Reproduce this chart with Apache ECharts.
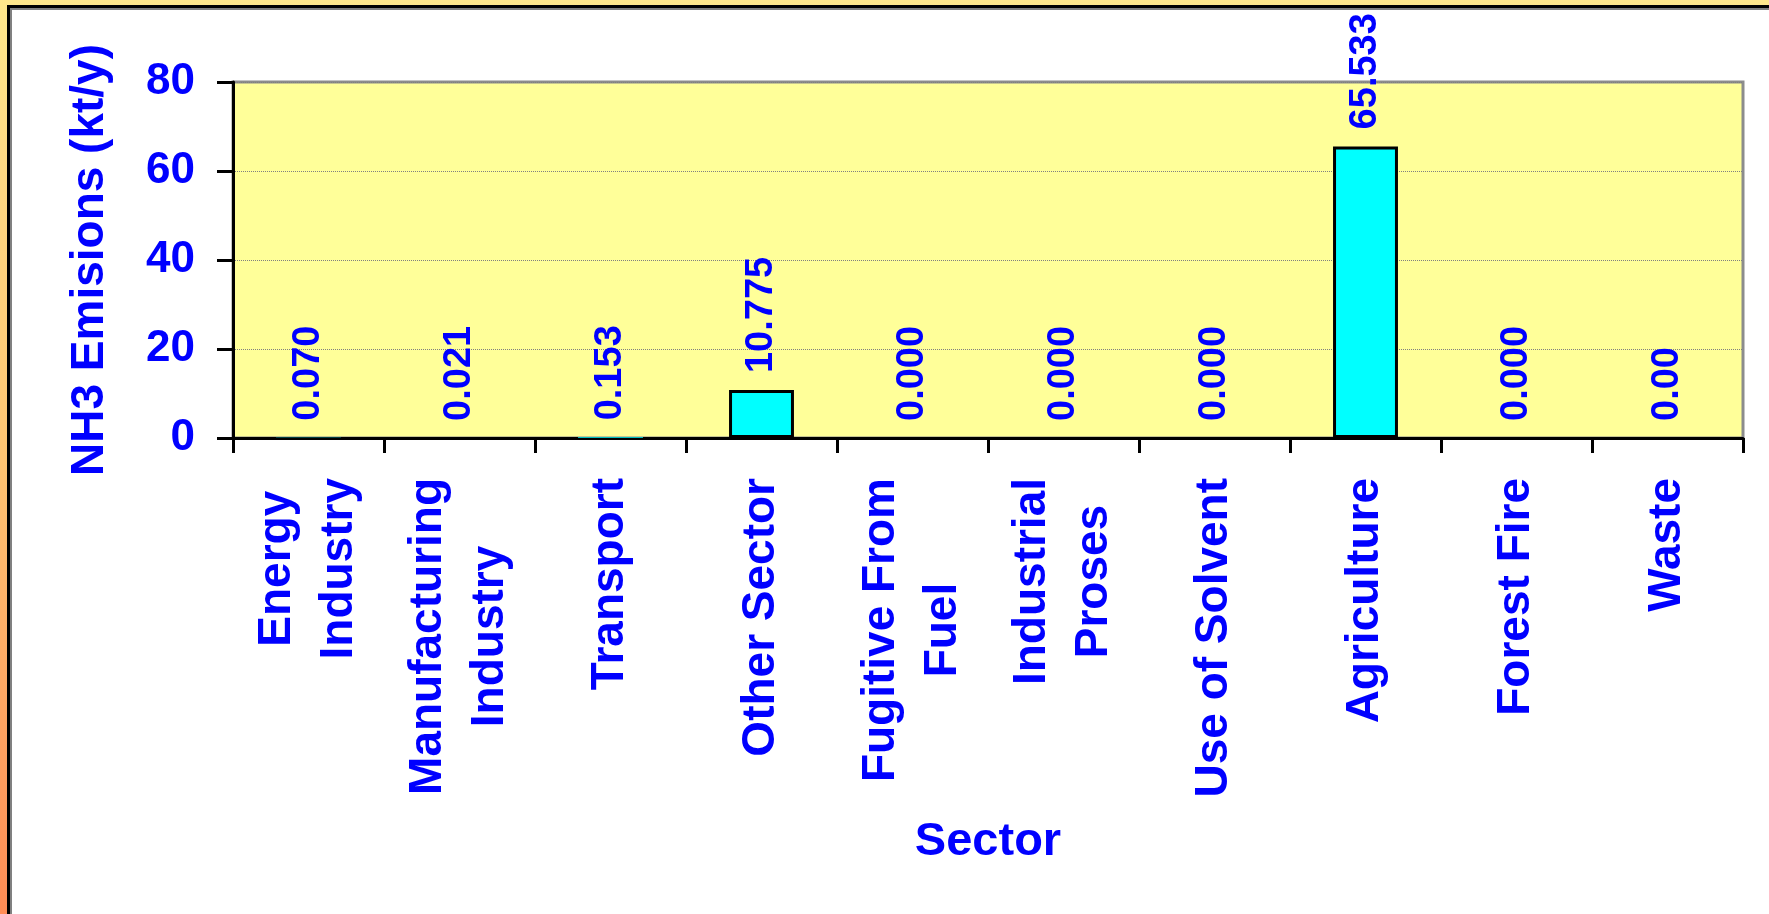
<!DOCTYPE html>
<html>
<head>
<meta charset="UTF-8">
<title>NH3 Emisions by Sector</title>
<style type="text/css">
	html, body {
		margin: 0;
		padding: 0;
		width: 100%;
		height: 100%;
		overflow: hidden;
	}
	body {
		background: linear-gradient(to bottom, #FFE78C 0%, #FFC472 50%, #FF8C55 100%);
	}
	/* white sheet with the black edge, right/bottom cut off by the window */
	.sheet {
		position: absolute;
		left: 7px;
		top: 5px;
		width: 1800px;
		height: 950px;
		background: #fff;
		border-left: 3px solid #000;
		border-top: 3px solid #000;
		box-shadow: inset 2px 2px 0 #808080;
	}
	#main {
		position: absolute;
		left: 0;
		top: 0;
		width: 1769px;
		height: 914px;
	}
</style>
</head>
<body>
<div class="sheet"></div>
<div id="main"></div>
<script src="https://cdn.jsdelivr.net/npm/echarts@6/dist/echarts.min.js"></script>
<script type="text/javascript">
	// sectors (line breaks as in the picture)
	var sectors = ['Energy\nIndustry', 'Manufacturing\nIndustry', 'Transport', 'Other Sector',
		'Fugitive From\nFuel', 'Industrial\nProses', 'Use of Solvent', 'Agriculture', 'Forest Fire', 'Waste'];
	// NH3 emisions, kt/y
	var emisions = [0.070, 0.021, 0.153, 10.775, 0.000, 0.000, 0.000, 65.533, 0.000, 0.00];
	// data labels as printed
	var valueLabels = ['0.070', '0.021', '0.153', '10.775', '0.000', '0.000', '0.000', '65.533', '0.000', '0.00'];
	var yTicks = [0, 20, 40, 60, 80];

	var blue = '#0000FF';
	var font = '"Liberation Sans", Arial, sans-serif';

	// bars too small to see get no outline (as in the original)
	var barData = emisions.map(function(v) {
		return {
			value: v,
			itemStyle: {borderWidth: v < 1 ? 0 : 3}
		};
	});

	var myChart = echarts.init(document.getElementById('main'), null, {renderer: 'canvas'});
	var option = {
		backgroundColor: 'transparent',
		animation: false,
		grid: {
			left: 233,
			right: 26,
			top: 82,
			bottom: 476,
			show: true,
			backgroundColor: '#FFFF99',
			borderColor: '#8C8C8C',
			borderWidth: 3
		},
		xAxis: {
			type: 'category',
			data: sectors,
			name: 'Sector',
			nameLocation: 'middle',
			nameGap: 381,
			nameTextStyle: {
				color: blue,
				fontSize: 47,
				fontWeight: 'bold',
				fontFamily: font
			},
			axisLine: {
				lineStyle: {color: '#000', width: 3}
			},
			axisTick: {
				show: true,
				length: 15,
				lineStyle: {color: '#000', width: 3}
			},
			axisLabel: {
				interval: 0,
				rotate: 90,
				margin: 40,
				formatter: function(v) {
					return v.split('\n').map(function(s) {
						return '{c|' + s + '}';
					}).join('\n');
				},
				rich: {
					c: {
						align: 'center',
						color: blue,
						fontSize: 46,
						fontWeight: 'bold',
						fontFamily: font,
						lineHeight: 62
					}
				}
			},
			splitLine: {show: false}
		},
		yAxis: {
			type: 'value',
			min: yTicks[0],
			max: yTicks[yTicks.length - 1],
			interval: yTicks[1] - yTicks[0],
			name: 'NH3 Emisions (kt/y)',
			nameLocation: 'middle',
			nameGap: 120,
			nameTextStyle: {
				color: blue,
				fontSize: 46,
				fontWeight: 'bold',
				fontFamily: font
			},
			axisLine: {
				show: true,
				lineStyle: {color: '#000', width: 3}
			},
			axisTick: {
				show: true,
				length: 16,
				lineStyle: {color: '#000', width: 3}
			},
			axisLabel: {
				margin: 38,
				color: blue,
				fontSize: 44,
				fontWeight: 'bold',
				fontFamily: font
			},
			splitLine: {
				show: true,
				lineStyle: {color: '#808080', width: 1, type: 'dotted'}
			}
		},
		series: [{
			name: 'NH3',
			type: 'bar',
			data: barData,
			barWidth: '43%',
			itemStyle: {
				color: '#00FFFF',
				borderColor: '#000',
				borderWidth: 3
			},
			label: {
				show: true,
				position: 'top',
				rotate: 90,
				align: 'left',
				verticalAlign: 'middle',
				distance: 17,
				color: blue,
				fontSize: 38,
				fontWeight: 'bold',
				fontFamily: font,
				formatter: function(p) {
					return valueLabels[p.dataIndex];
				}
			}
		}]
	};
	myChart.setOption(option);
</script>
</body>
</html>
